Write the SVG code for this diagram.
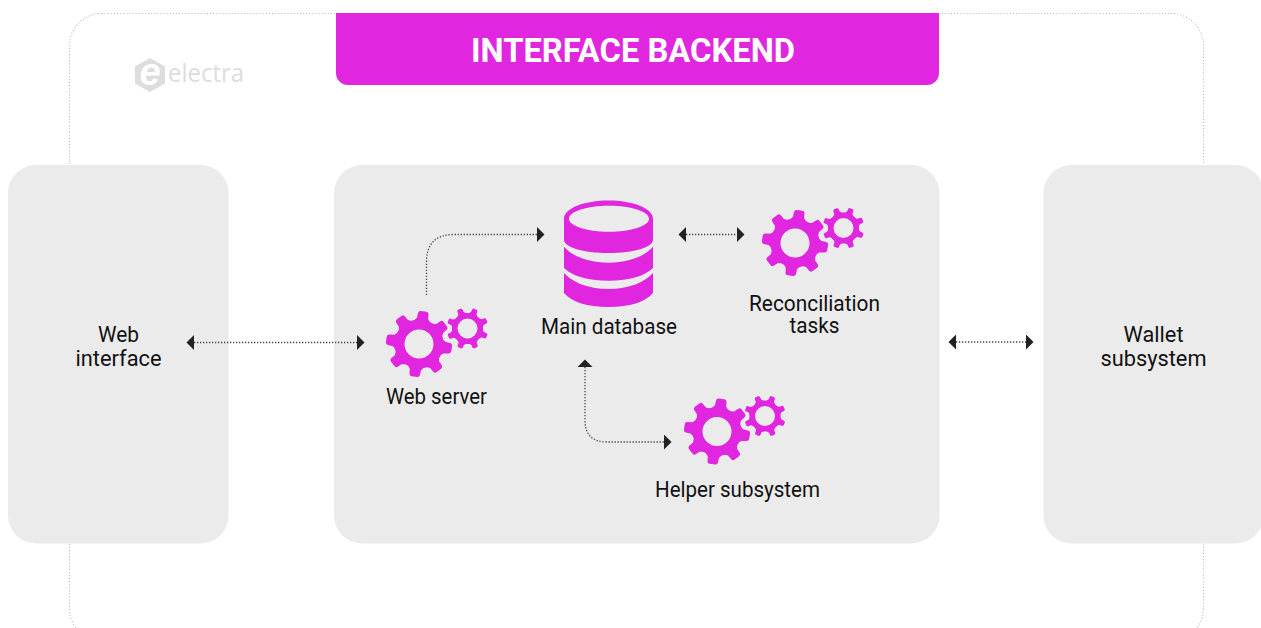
<svg xmlns="http://www.w3.org/2000/svg" xmlns:xlink="http://www.w3.org/1999/xlink" width="1261" height="628" viewBox="0 0 1261 628">
<style>
.panel{fill:#ebebeb}
.pink{fill:#e126e0}
.label{font-family:Roboto,"Liberation Sans",sans-serif;font-size:22.5px;fill:#111;text-anchor:middle}
.conn{fill:none;stroke:#444;stroke-width:1.3;stroke-dasharray:1.3 1.7;marker-start:url(#head);marker-end:url(#head)}
</style>
<defs>
<marker id="head" markerUnits="userSpaceOnUse" markerWidth="8" markerHeight="16" refX="0" refY="7.5" orient="auto-start-reverse"><path d="M0 0L7.500 7.500L0 15Z" fill="#222"/></marker>
<path id="bigTooth" d="M20 -7L25 -3.200L30.500 -2.800V2.800L25 3.200L20 7Z" fill="#e126e0" stroke="#e126e0" stroke-width="5" stroke-linejoin="round"/>
<path id="smallTooth" d="M13 -4L16 -1.500L19.300 -1.300V1.300L16 1.500L13 4Z" fill="#e126e0" stroke="#e126e0" stroke-width="3" stroke-linejoin="round"/>
<g id="bigGear">
<circle r="19.500" fill="none" stroke="#e126e0" stroke-width="10"/>
<use href="#bigTooth" transform="rotate(8)"/><use href="#bigTooth" transform="rotate(53)"/><use href="#bigTooth" transform="rotate(98)"/><use href="#bigTooth" transform="rotate(143)"/><use href="#bigTooth" transform="rotate(188)"/><use href="#bigTooth" transform="rotate(233)"/><use href="#bigTooth" transform="rotate(278)"/><use href="#bigTooth" transform="rotate(323)"/>
</g>
<g id="smallGear">
<circle r="12.800" fill="none" stroke="#e126e0" stroke-width="5.600"/>
<use href="#smallTooth" transform="rotate(22)"/><use href="#smallTooth" transform="rotate(67)"/><use href="#smallTooth" transform="rotate(112)"/><use href="#smallTooth" transform="rotate(157)"/><use href="#smallTooth" transform="rotate(202)"/><use href="#smallTooth" transform="rotate(247)"/><use href="#smallTooth" transform="rotate(292)"/><use href="#smallTooth" transform="rotate(337)"/>
</g>
</defs>
<rect width="1261" height="628" fill="#fff"/>
<rect id="outer-frame" x="69.500" y="13.500" width="1134" height="627" rx="32" fill="none" stroke="#bbb" stroke-width="1.100" stroke-dasharray="1.100 2"/>
<g id="header">
<path class="pink" d="M336 13H939V73a12 12 0 0 1-12 12H348a12 12 0 0 1-12-12Z"/>
<text x="633" y="61.500" font-family="Roboto,'Liberation Sans',sans-serif" font-size="32.500" font-weight="700" fill="#fff" text-anchor="middle" textLength="324" lengthAdjust="spacingAndGlyphs">INTERFACE BACKEND</text>
</g>
<g id="logo">
<path d="M150 58L165 66.500V83.500L150 92L135 83.500V66.500Z" fill="#ddd"/>
<text x="150" y="85" font-family="'Liberation Sans',sans-serif" font-size="38" font-weight="700" font-style="italic" fill="#fff" text-anchor="middle">e</text>
<text x="168" y="82" font-family="'Open Sans',sans-serif" font-size="25" font-weight="400" fill="#ddd" textLength="76" lengthAdjust="spacingAndGlyphs">electra</text>
</g>
<g id="web-interface">
<rect class="panel" x="8" y="165" width="220.500" height="378.500" rx="28"/>
<text class="label" x="118.500" y="342" textLength="41" lengthAdjust="spacingAndGlyphs">Web</text>
<text class="label" x="118.500" y="366" textLength="86" lengthAdjust="spacingAndGlyphs">interface</text>
</g>
<rect id="backend-panel" class="panel" x="334" y="165" width="605.500" height="378.500" rx="28"/>
<g id="wallet-subsystem">
<rect class="panel" x="1043.500" y="165" width="220" height="378.500" rx="28"/>
<text class="label" x="1153.500" y="342" textLength="60" lengthAdjust="spacingAndGlyphs">Wallet</text>
<text class="label" x="1153.500" y="366" textLength="106" lengthAdjust="spacingAndGlyphs">subsystem</text>
</g>
<g id="connectors">
<path class="conn" d="M194 342.500H357"/>
<path class="conn" d="M426.500 295V262Q426.500 234.500 454 234.500H537" style="marker-start:none"/>
<path class="conn" d="M686 234.500H737"/>
<path class="conn" d="M585 367V420Q585 442 607 442H664"/>
<path class="conn" d="M956 342H1026"/>
</g>
<g id="web-server">
<use href="#bigGear" x="419" y="344"/>
<use href="#smallGear" x="467.500" y="328.500"/>
<text class="label" x="436.500" y="403.500" textLength="101" lengthAdjust="spacingAndGlyphs">Web server</text>
</g>
<g id="main-database">
<path class="pink" fill-rule="evenodd" d="M564 218.700C564 208.400 584 200.500 608.500 200.500S653 208.400 653 218.700V240C653 247 634 253 608.500 253S564 247 564 240ZM569 218.700C569 226 587 231.700 609 231.700S649 226 649 218.700S631 205.700 609 205.700S569 211.400 569 218.700Z"/>
<path class="pink" d="M564 246.700C572 256 588 262.700 608.500 262.700S645 256 653 246.700V268C645 276 630 280.700 608.500 280.700S572 276 564 268Z"/>
<path class="pink" d="M564 273C572 282 588 289 608.500 289S645 282 653 273V293C645 302 630 307 608.500 307S572 302 564 293Z"/>
<text class="label" x="609" y="334" textLength="136" lengthAdjust="spacingAndGlyphs">Main database</text>
</g>
<g id="reconciliation-tasks">
<use href="#bigGear" x="795" y="243"/>
<use href="#smallGear" x="843.500" y="228"/>
<text class="label" x="814.500" y="310.500" textLength="131" lengthAdjust="spacingAndGlyphs">Reconciliation</text>
<text class="label" x="814.500" y="333" textLength="50" lengthAdjust="spacingAndGlyphs">tasks</text>
</g>
<g id="helper-subsystem">
<use href="#bigGear" x="717" y="431.500"/>
<use href="#smallGear" x="765" y="416"/>
<text class="label" x="737.500" y="496.500" textLength="165" lengthAdjust="spacingAndGlyphs">Helper subsystem</text>
</g>
</svg>
